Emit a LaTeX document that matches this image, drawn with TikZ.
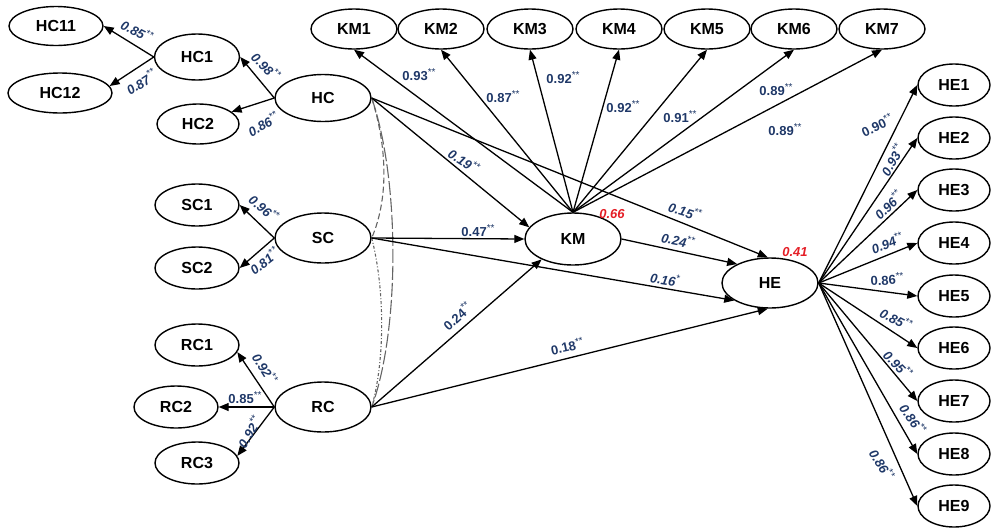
\documentclass[tikz,border=0pt]{standalone}
\usepackage{fontspec}
\setmainfont{Liberation Sans}
\usetikzlibrary{shapes.geometric,arrows.meta}
\definecolor{labblue}{RGB}{31,56,104}
\definecolor{rsqred}{RGB}{228,30,38}
\definecolor{corrgray}{RGB}{100,100,100}
\newcommand\nfont{\fontsize{16}{19}\selectfont\bfseries}
\newcommand\lfont{\fontsize{13}{15}\selectfont\bfseries}
\newcommand\stars{\raisebox{0.38em}{\fontsize{10}{10}\selectfont\mdseries **}}
\newcommand\onestar{\raisebox{0.38em}{\fontsize{10}{10}\selectfont\mdseries *}}
\begin{document}
\begin{tikzpicture}[x=1pt,y=-1pt,
  obs/.style={ellipse, draw, line width=1.4pt, minimum width=84pt, minimum height=42pt, inner sep=0pt, font=\nfont},
  lat/.style={obs, minimum width=96pt, minimum height=50pt},
  arr/.style={-{Triangle[length=10pt,width=8pt]}, line width=1.3pt},
  lab/.style={font=\lfont, text=labblue, inner sep=0pt},
  labi/.style={lab, font=\lfont\itshape},
  rsq/.style={font=\lfont\itshape, text=rsqred, inner sep=0pt},
  corr/.style={draw=corrgray, line width=1.1pt}]
\useasboundingbox (0,0) rectangle (991,528);
% first-order nodes left
\node[obs, minimum width=94pt, minimum height=39pt] (HC11) at (56,26) {HC11};
\node[obs, minimum width=104pt, minimum height=40pt] (HC12) at (60,93) {HC12};
\node[obs, minimum width=85pt, minimum height=46pt] (HC1) at (197,57) {HC1};
\node[obs, minimum width=82pt, minimum height=40pt] (HC2) at (198,124) {HC2};
\node[lat, minimum height=47pt] (HC) at (323,98) {HC};
\node[obs] (SC1) at (197,205) {SC1};
\node[obs] (SC2) at (197,268) {SC2};
\node[lat] (SC) at (323,238) {SC};
\node[obs] (RC1) at (197,345) {RC1};
\node[obs] (RC2) at (176,407) {RC2};
\node[obs] (RC3) at (197,463) {RC3};
\node[lat] (RC) at (323,407) {RC};
% KM indicators
\foreach \i/\x in {1/354,2/441,3/530,4/619,5/707,6/794,7/882}
  \node[obs, minimum width=86pt, minimum height=40pt] (KM\i) at (\x,29) {KM\i};
\node[lat, minimum height=52pt] (KM) at (573,239) {KM};
\node[lat] (HE) at (770,283) {HE};
\foreach \i/\y in {1/85,2/138,3/190,4/243,5/296,6/348,7/401,8/454,9/506}
  \node[obs, minimum width=72pt, minimum height=42pt] (HE\i) at (954,\y) {HE\i};
% correlation arcs
\draw[corr, dash pattern=on 6pt off 3pt] (HC.east) .. controls (388,150) and (388,200) .. (SC.east);
\draw[corr, dash pattern=on 14pt off 3pt] (HC.east) .. controls (400,180) and (400,330) .. (RC.east);
\draw[corr, dash pattern=on 3pt off 2pt on 1pt off 2pt] (SC.east) .. controls (385,290) and (385,360) .. (RC.east);
% measurement arrows
\draw[arr] (HC1.west) -- (HC11.east);
\draw[arr] (HC1.west) -- (HC12.8);
\draw[arr] (HC.west) -- (HC1.east);
\draw[arr] (HC.west) -- (HC2.20);
\draw[arr] (SC.west) -- (SC1.east);
\draw[arr] (SC.west) -- (SC2.east);
\draw[arr] (RC.west) -- (RC1.-10);
\draw[arr] (RC.west) -- (RC2.east);
\draw[arr] (RC.west) -- (RC3.10);
\foreach \i in {1,...,7} \draw[arr] (KM.north) -- (KM\i.south);
\foreach \i in {1,...,9} \draw[arr] (HE.east) -- (HE\i.west);
% structural paths
\draw[arr] (HC.east) -- (KM.165);
\draw[arr] (HC.east) -- (HE.95);
\draw[arr] (SC.east) -- (KM.west);
\draw[arr] (SC.east) -- (HE.206);
\draw[arr] (KM.east) -- (HE.150);
\draw[arr] (RC.east) -- (KM.213);
\draw[arr] (RC.east) -- (HE.265);
% labels
\node[labi, rotate=-27] (l1) at (137,31) {0.85\stars};
\node[labi, rotate=33] (l2) at (141,82) {0.87\stars};
\node[labi, rotate=-45] (l3) at (266,66) {0.98\stars};
\node[labi, rotate=30] (l4) at (263,124) {0.86\stars};
\node[labi, rotate=-40] (l5) at (264,208) {0.96\stars};
\node[labi, rotate=38] (l6) at (264,261) {0.81\stars};
\node[labi, rotate=-58] (l7) at (265,368) {0.92\stars};
\node[lab] (l8) at (245,398) {0.85\stars};
\node[labi, rotate=59] (l9) at (249,432) {0.92\stars};
\node[lab] (k1) at (419,75) {0.93\stars};
\node[lab] (k2) at (503,97) {0.87\stars};
\node[lab] (k3) at (563,78) {0.92\stars};
\node[lab] (k4) at (623,107) {0.92\stars};
\node[lab] (k5) at (680,117) {0.91\stars};
\node[lab] (k6) at (776,90) {0.89\stars};
\node[lab] (k7) at (785,130) {0.89\stars};
\node[labi, rotate=-33] (s1) at (464,161) {0.19\stars};
\node[labi, rotate=-17] (s2) at (685,211) {0.15\stars};
\node[lab] (s3) at (478,231) {0.47\stars};
\node[labi, rotate=-11] (s4) at (678,240) {0.24\stars};
\node[labi, rotate=-9] (s5) at (665,279) {0.16\onestar};
\node[lab, rotate=42] (s6) at (457,316) {0.24\stars};
\node[lab, rotate=12] (s7) at (567,346) {0.18\stars};
\node[rsq] (r1) at (612,214) {0.66};
\node[rsq] (r2) at (795,252) {0.41};
\node[lab, rotate=25] (h1) at (877,125) {0.90\stars};
\node[labi, rotate=60] (h2) at (892,160) {0.93\stars};
\node[labi, rotate=45] (h3) at (888,205) {0.96\stars};
\node[labi, rotate=22] (h4) at (887,243) {0.94\stars};
\node[lab, rotate=3] (h5) at (887,279) {0.86\stars};
\node[labi, rotate=-28] (h6) at (896,319) {0.85\stars};
\node[labi, rotate=-45] (h7) at (898,364) {0.95\stars};
\node[labi, rotate=-55] (h8) at (913,419) {0.86\stars};
\node[labi, rotate=-58] (h9) at (882,464) {0.86\stars};
\end{tikzpicture}
\end{document}
